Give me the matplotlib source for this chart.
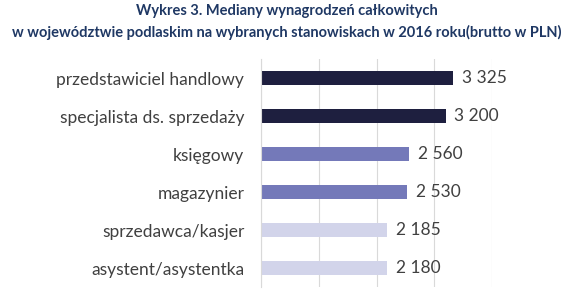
import matplotlib.pyplot as plt

categories = ['przedstawiciel handlowy', 'specjalista ds. sprzedaży', 'księgowy',
              'magazynier', 'sprzedawca/kasjer', 'asystent/asystentka']
values = [3325, 3200, 2560, 2530, 2185, 2180]
value_labels = ['3 325', '3 200', '2 560', '2 530', '2 185', '2 180']
colors = ['#1e1f3f', '#1e1f3f', '#7479b9', '#7479b9', '#d2d4ea', '#d2d4ea']

plt.rcParams['font.family'] = ['Lato', 'DejaVu Sans']

fig = plt.figure(figsize=(5.73, 3.02), dpi=100)
ax = fig.add_axes([261 / 573, 1 - 287 / 302, (492 - 261) / 573, (287 - 59) / 302])

y = list(range(len(categories)))
ax.barh(y, values, height=0.37, color=colors)
ax.set_ylim(len(categories) - 0.5, -0.5)
ax.set_xlim(0, 4000)
ax.set_xticks([0, 1000, 2000, 3000, 4000])
ax.xaxis.grid(True, color='#d9d9d9', linewidth=0.8)
ax.set_axisbelow(True)
ax.tick_params(axis='x', labelbottom=False, length=0)
ax.tick_params(axis='y', length=0, pad=12)
ax.set_yticks(y)
ax.set_yticklabels(categories, fontsize=12.5, color='#404040')
for s in ['top', 'right', 'bottom']:
    ax.spines[s].set_visible(False)
ax.spines['left'].set_color('#d9d9d9')

for yi, v, lab in zip(y, values, value_labels):
    ax.text(v + 150, yi, lab, va='center', ha='left', fontsize=12.5, color='#404040')

fig.text(0.5, 1 - 11 / 302, 'Wykres 3. Mediany wynagrodzeń całkowitych',
         ha='center', va='center', fontsize=10.5, fontweight='bold', color='#1f3864')
fig.text(0.5, 1 - 32 / 302,
         'w województwie podlaskim na wybranych stanowiskach w 2016 roku(brutto w PLN)',
         ha='center', va='center', fontsize=10.5, fontweight='bold', color='#1f3864')

fig.savefig('out.png', dpi=100)
